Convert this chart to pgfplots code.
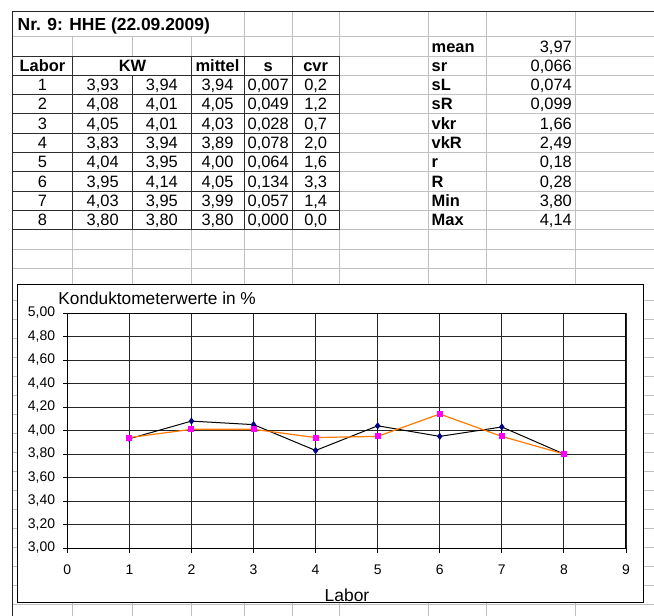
\documentclass[border=0pt]{standalone}
\usepackage{pgfplots}
\pgfplotsset{compat=1.18}
\usepackage{fontspec}
\setmainfont{Liberation Sans}
\definecolor{gridgray}{RGB}{192,192,192}
\definecolor{cellline}{RGB}{45,45,45}
\definecolor{xlorange}{RGB}{255,122,0}
\definecolor{xlnavy}{RGB}{0,0,128}
\definecolor{xlmagenta}{RGB}{255,0,255}

\newcommand{\tfont}{\fontsize{16.5}{19}\selectfont}
\newcommand{\drow}[7]{%
  \node[anchor=base] at (42.5,#1) {#2};
  \node[anchor=base] at (102.7,#1) {#3};
  \node[anchor=base] at (161.8,#1) {#4};
  \node[anchor=base] at (217.5,#1) {#5};
  \node[anchor=base] at (268.2,#1) {#6};
  \node[anchor=base] at (315.7,#1) {#7};}
\newcommand{\rrow}[3]{%
  \node[anchor=base west] at (431.5,#1) {\bfseries #2};
  \node[anchor=base east] at (572,#1) {#3};}

\begin{document}
\begin{tikzpicture}
\path[use as bounding box] (0,0) rectangle (654bp,-616bp);
\begin{scope}[x=1bp,y=-1bp]
  % light spreadsheet gridlines
  \begin{scope}[gridgray, line width=0.9bp]
    \draw (12.3,36.5) -- (654,36.5);
    \foreach \y in {56,75.3,94.6,113.9,133.2,152.5,171.8,191.1,210.4,229.7}
      \draw (339,\y) -- (654,\y);
    \foreach \y in {249,268.3,300,319,338,357,376,395,414,433,452,471,490,509,528,547,566,585,604}
      \draw (12.3,\y) -- (654,\y);
    \foreach \x in {244,292.5,339,428,486,575}
      \draw (\x,11.5) -- (\x,56);
    \foreach \x in {72.7,132.7,191}
      \draw (\x,36.5) -- (\x,56);
    \foreach \x in {428,486,575}
      \draw (\x,56) -- (\x,229.7);
    \foreach \x in {72.7,132.7,191,244,292.5,339,428,486,575}
      \draw (\x,229.7) -- (\x,616);
  \end{scope}
  % dark cell borders of the data block
  \begin{scope}[cellline, line width=1bp]
    \foreach \y in {56,75.3,94.6,113.9,133.2,152.5,171.8,191.1,210.4,229.7}
      \draw (12.3,\y) -- (339,\y);
    \foreach \x in {72.7,191,244,292.5,339}
      \draw (\x,56) -- (\x,229.7);
    \draw (132.7,75.3) -- (132.7,229.7);
  \end{scope}
  \draw[black!85, line width=1.2bp] (12.3,11.5) -- (654,11.5);
  \draw[black!85, line width=1.2bp] (12.3,11.5) -- (12.3,616);

  % table texts
  \begin{scope}[every node/.style={inner sep=0pt, font=\tfont}]
    \node[anchor=base west, font=\fontsize{17.5}{20}\selectfont\bfseries] at (17.5,30.3) {Nr. 9: HHE (22.09.2009)};
    \node[anchor=base, font=\tfont\bfseries] at (42.5,71.3) {Labor};
    \node[anchor=base, font=\tfont\bfseries] at (132.5,71.3) {KW};
    \node[anchor=base, font=\tfont\bfseries] at (217.5,71.3) {mittel};
    \node[anchor=base, font=\tfont\bfseries] at (268.2,71.3) {s};
    \node[anchor=base, font=\tfont\bfseries] at (315.7,71.3) {cvr};
    \drow{90.6}{1}{3,93}{3,94}{3,94}{0,007}{0,2}
    \drow{109.9}{2}{4,08}{4,01}{4,05}{0,049}{1,2}
    \drow{129.2}{3}{4,05}{4,01}{4,03}{0,028}{0,7}
    \drow{148.5}{4}{3,83}{3,94}{3,89}{0,078}{2,0}
    \drow{167.8}{5}{4,04}{3,95}{4,00}{0,064}{1,6}
    \drow{187.1}{6}{3,95}{4,14}{4,05}{0,134}{3,3}
    \drow{206.4}{7}{4,03}{3,95}{3,99}{0,057}{1,4}
    \drow{225.7}{8}{3,80}{3,80}{3,80}{0,000}{0,0}
    \rrow{52}{mean}{3,97}
    \rrow{71.3}{sr}{0,066}
    \rrow{90.6}{sL}{0,074}
    \rrow{109.9}{sR}{0,099}
    \rrow{129.2}{vkr}{1,66}
    \rrow{148.5}{vkR}{2,49}
    \rrow{167.8}{r}{0,18}
    \rrow{187.1}{R}{0,28}
    \rrow{206.4}{Min}{3,80}
    \rrow{225.7}{Max}{4,14}
  \end{scope}

  % chart area
  \draw[black, line width=1bp, fill=white] (17.3,284) rectangle (643.3,602.7);
  \node[anchor=base west, inner sep=0pt, font=\fontsize{17.3}{20}\selectfont] at (58.3,304.5) {Konduktometerwerte in \%};
  \node[anchor=base, inner sep=0pt, font=\fontsize{17.5}{20}\selectfont] at (347,601) {Labor};
\end{scope}

\begin{axis}[
  at={(67.3bp,-548bp)}, anchor=south west,
  scale only axis, width=558.7bp, height=235bp,
  xmin=0, xmax=9, ymin=3, ymax=5,
  xtick={0,1,2,3,4,5,6,7,8,9},
  xticklabels={0,1,2,3,4,5,6,7,8,9},
  ytick={3,3.2,3.4,3.6,3.8,4,4.2,4.4,4.6,4.8,5},
  yticklabels={{3,00},{3,20},{3,40},{3,60},{3,80},{4,00},{4,20},{4,40},{4,60},{4,80},{5,00}},
  tick align=outside, tick pos=left,
  major tick length=4.5bp,
  tick style={black, line width=0.9bp},
  grid=major, major grid style={black!85, line width=0.9bp},
  axis line style={black, line width=1bp},
  ticklabel style={font=\fontsize{14}{16}\selectfont},
  yticklabel style={inner sep=0pt, xshift=-7.5bp},
  xticklabel style={inner sep=0pt, yshift=-12bp},
  /pgf/number format/assume math mode=true,
]
\addplot[black, line width=1bp, mark=diamond*, mark size=2.8bp,
  mark options={xlnavy, fill=xlnavy, solid}]
  coordinates {(1,3.93) (2,4.08) (3,4.05) (4,3.83) (5,4.04) (6,3.95) (7,4.03) (8,3.80)};
\addplot[xlorange, line width=1.2bp, mark=square*, mark size=2.4bp,
  mark options={xlmagenta, fill=xlmagenta, solid}]
  coordinates {(1,3.94) (2,4.01) (3,4.01) (4,3.94) (5,3.95) (6,4.14) (7,3.95) (8,3.80)};
\end{axis}
\end{tikzpicture}
\end{document}
